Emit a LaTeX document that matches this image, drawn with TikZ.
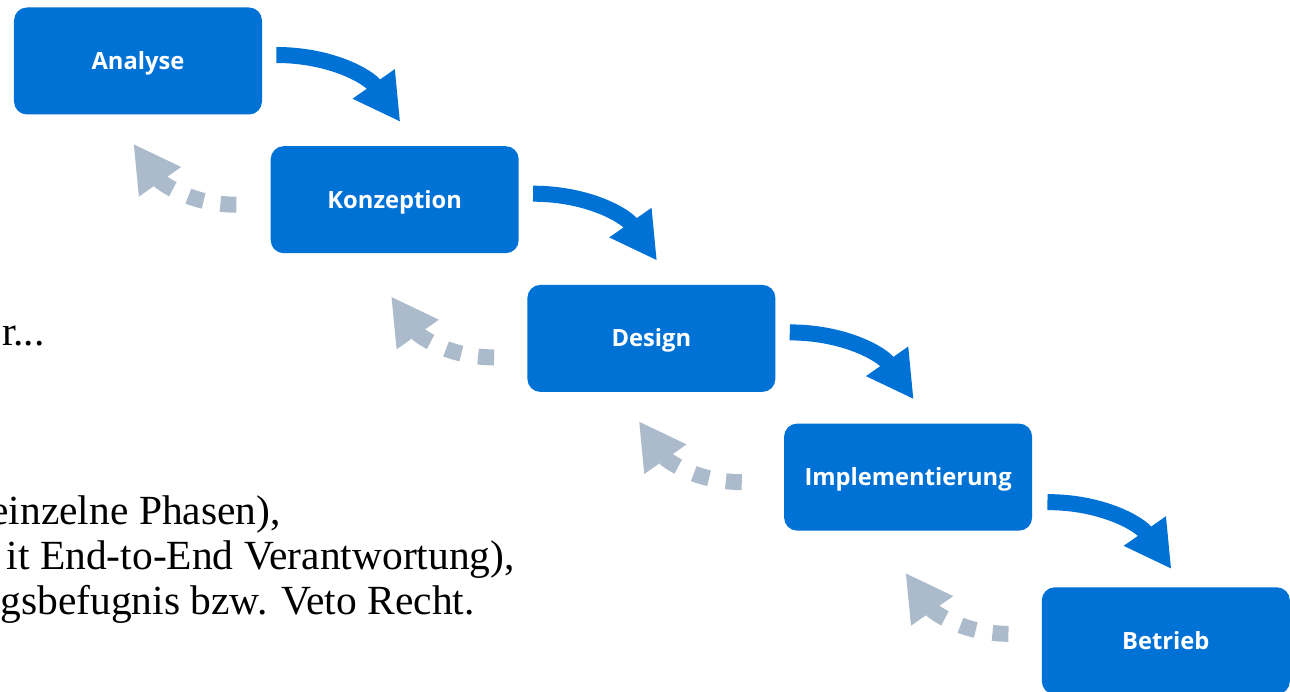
\documentclass[tikz,border=0pt]{standalone}
\usepackage{fontspec}
\newfontfamily\boxsans{Open Sans}
\newfontfamily\bodyserif{Liberation Serif}
\usetikzlibrary{arrows.meta,positioning}
\definecolor{phaseblue}{RGB}{0,114,214}
\definecolor{backgray}{RGB}{171,187,203}

\begin{document}
\begin{tikzpicture}[
    phase/.style={rectangle,rounded corners=0.26cm,fill=phaseblue,text=white,
      minimum width=4.96cm,minimum height=2.14cm,inner sep=0pt,
      text height=9.6pt,text depth=0pt,
      font=\boxsans\bfseries\fontsize{13.5pt}{16pt}\selectfont},
    fwd/.style={draw=phaseblue,line width=0.32cm,
      -{Triangle[length=0.93cm,width=0.96cm]}},
    back/.style={draw=backgray,line width=0.32cm,dash pattern=on 0.32cm off 0.34cm,
      -{Triangle[length=0.93cm,width=0.96cm]}},
    note/.style={anchor=base east,inner sep=0pt,
      font=\bodyserif\fontsize{23.6pt}{28pt}\selectfont}]

                \useasboundingbox (0,0) rectangle (25.8,13.82);

                % text cut off at the left edge
                \node[note] (n1) at (0.9,6.9) {r...};
                \node[note] (n2) at (5.62,3.34) {einzelne Phasen),};
                \node[note] (n3) at (10.3,2.44) {it End-to-End Verantwortung),};
                \node[note] (n4) at (9.5,1.54) {gsbefugnis bzw. Veto Recht.};

                \node[phase] (ana) at (2.76,12.6) {Analyse};
                \node[phase] (kon) [below right=0.62cm and 0.16cm of ana] {Konzeption};
                \node[phase] (des) [below right=0.62cm and 0.16cm of kon] {Design};
                \node[phase] (imp) [below right=0.62cm and 0.16cm of des] {Implementierung};
                \node[phase] (bet) [below right=1.12cm and 0.18cm of imp] {Betrieb};

                % forward arrows
                \coordinate (f1) at ([shift={(0.28,0.12)}]ana.east);
                \coordinate (f2) at ([shift={(0.28,0.12)}]kon.east);
                \coordinate (f3) at ([shift={(0.28,0.12)}]des.east);
                \coordinate (f4) at ([shift={(0.3,-0.5)}]imp.east);
                \coordinate (f1t) at ([shift={(2.48,-1.34)}]f1);
                \coordinate (f2t) at ([shift={(2.48,-1.34)}]f2);
                \coordinate (f3t) at ([shift={(2.48,-1.34)}]f3);
                \coordinate (f4t) at ([shift={(2.48,-1.34)}]f4);

                \draw[fwd] (f1) to[out=0,in=125] (f1t);
                \draw[fwd] (f2) to[out=0,in=125] (f2t);
                \draw[fwd] (f3) to[out=0,in=125] (f3t);
                \draw[fwd] (f4) to[out=0,in=125] (f4t);

                % way back
                \coordinate (b1) at ([shift={(-0.68,-0.1)}]kon.west);
                \coordinate (b2) at ([shift={(-0.66,-0.38)}]des.west);
                \coordinate (b3) at ([shift={(-0.84,-0.1)}]imp.west);
                \coordinate (b4) at ([shift={(-0.66,0.14)}]bet.west);
                \coordinate (b1t) at ([shift={(-2.06,1.22)}]b1);
                \coordinate (b2t) at ([shift={(-2.06,1.22)}]b2);
                \coordinate (b3t) at ([shift={(-2.06,1.22)}]b3);
                \coordinate (b4t) at ([shift={(-2.06,1.22)}]b4);

                \draw[back] (b1) to[out=180,in=-55] (b1t);
                \draw[back] (b2) to[out=180,in=-55] (b2t);
                \draw[back] (b3) to[out=180,in=-55] (b3t);
                \draw[back] (b4) to[out=180,in=-55] (b4t);

            \end{tikzpicture}
\end{document}
